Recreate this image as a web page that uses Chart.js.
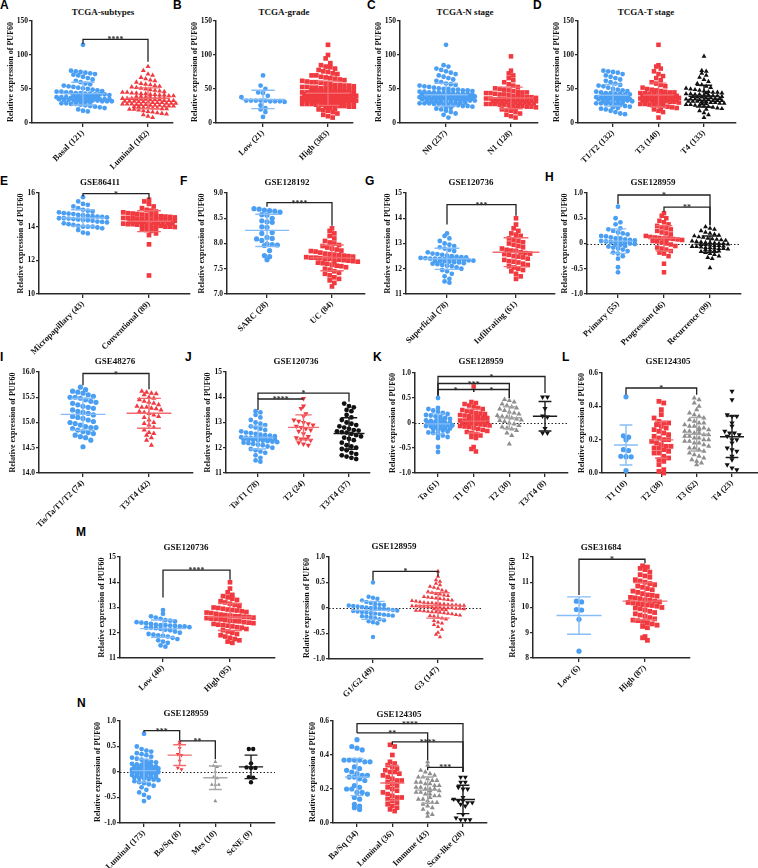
<!DOCTYPE html>
<html lang="en">
<head>
<meta charset="UTF-8">
<title>PUF60 expression in bladder cancer cohorts</title>
<script src="https://cdn.jsdelivr.net/npm/chart.js"></script>
<style>
  body { margin: 0; background: #fff; }
  #fig { position: relative; width: 758px; height: 868px; overflow: hidden; }
  #fig canvas { position: absolute; }
  .lab { position: absolute; font: bold 12px "Liberation Sans", Arial, sans-serif; line-height: 12px; color: #000; }
  .ttl { position: absolute; font: bold 9px "Liberation Serif", "Times New Roman", serif; color: #111;
         transform: translate(-50%, -50%); white-space: nowrap; }
</style>
</head>
<body>
<div id="fig"></div>
<script>
// ---- data ----
const ticksTCGA = ['0', '50', '100', '150'];
const ticksE = ['10', '12', '14', '16'];
const ticksF = ['7.0', '7.5', '8.0', '8.5', '9.0'];
const ticks11to15 = ['11', '12', '13', '14', '15'];
const ticksRel = ['-1.0', '-0.5', '0', '0.5', '1.0'];
const ticksI = ['14.0', '14.5', '15.0', '15.5', '16.0'];
const ticksSmall = ['0.0', '0.2', '0.4', '0.6'];
const ticksM3 = ['8', '9', '10', '11', '12'];

const catsA = ['Basal (121)', 'Luminal (182)'];
const catsB = ['Low (21)', 'High (383)'];
const catsC = ['N0 (237)', 'N1 (128)'];
const catsD = ['T1/T2 (132)', 'T3 (140)', 'T4 (133)'];
const catsE = ['Micropapillary (43)', 'Conventional (89)'];
const catsF = ['SARC (28)', 'UC (84)'];
const catsG = ['Superficial (78)', 'Infiltrating (61)'];
const catsH = ['Primary (55)', 'Progression (46)', 'Recurrence (99)'];
const catsI = ['Tis/Ta/T1/T2 (74)', 'T3/T4 (42)'];
const catsJ = ['Ta/T1 (78)', 'T2 (24)', 'T3/T4 (37)'];
const catsK = ['Ta (61)', 'T1 (97)', 'T2 (30)', 'T3/T4 (8)'];
const catsL = ['T1 (10)', 'T2 (38)', 'T3 (62)', 'T4 (23)'];
const catsM1 = ['Low (40)', 'High (95)'];
const catsM2 = ['G1/G2 (49)', 'G3 (147)'];
const catsM3 = ['Low (6)', 'High (87)'];
const catsN1 = ['Luminal (173)', 'Ba/Sq (8)', 'Mes (10)', 'ScNE (9)'];
const catsN2 = ['Ba/Sq (34)', 'Luminal (36)', 'Immune (43)', 'Scar-like (20)'];

const basalA = [115, 77, 76, 75, 74, 73, 72, 71, 70, 68, 66, 64, 62, 60, 58, 57, 55, 54, 53, 52, 51, 50, 49, 48, 47, 46, 46, 45, 45,
  44, 44, 43, 43, 42, 42, 42, 41, 41, 40, 40, 40, 39, 39, 38, 38, 38, 37, 37, 37, 36, 36, 36, 35, 35, 35, 35, 34, 34, 34, 34,
  33, 33, 33, 33, 32, 32, 32, 31, 31, 30, 30, 29, 29, 28, 28, 27, 26, 25, 24, 23, 22, 20, 18, 17];
const luminalA = [83, 77, 72, 70, 67, 65, 63, 62, 60, 58, 57, 56, 55, 54, 53, 52, 51, 50, 49, 48, 47, 46, 45, 45, 44, 44, 43, 43,
  42, 42, 41, 41, 40, 40, 39, 39, 38, 38, 37, 37, 37, 36, 36, 36, 35, 35, 35, 34, 34, 34, 33, 33, 33, 32, 32, 32, 31, 31, 31,
  30, 30, 30, 29, 29, 29, 28, 28, 28, 27, 27, 27, 26, 26, 26, 25, 25, 25, 24, 24, 23, 23, 22, 22, 21, 21, 20, 20, 19, 18, 17,
  16, 15, 14, 13, 12, 10, 8];
const lowB = [70, 55, 50, 45, 44, 40, 38, 33, 33, 33, 33, 33, 32, 32, 32, 31, 26, 22, 20, 16, 9];
const highB = [115, 100, 95, 88, 85, 83, 82, 80, 78, 76, 75, 73, 72, 70, 70, 68, 67, 66, 65, 64, 63, 62, 61, 60, 60, 59, 58, 57,
  56, 56, 55, 55, 54, 54, 53, 53, 52, 52, 51, 51, 50, 50, 50, 49, 49, 49, 48, 48, 48, 47, 47, 47, 46, 46, 46, 45, 45, 45, 45,
  44, 44, 44, 44, 43, 43, 43, 43, 42, 42, 42, 42, 41, 41, 41, 41, 40, 40, 40, 40, 40, 39, 39, 39, 39, 38, 38, 38, 38, 38,
  37, 37, 37, 37, 37, 36, 36, 36, 36, 36, 35, 35, 35, 35, 35, 34, 34, 34, 34, 34, 33, 33, 33, 33, 33, 32, 32, 32, 32,
  31, 31, 31, 31, 30, 30, 30, 30, 29, 29, 29, 28, 28, 28, 27, 27, 27, 26, 26, 25, 25, 24, 24, 23, 22, 21, 20, 19, 18, 16, 14,
  12, 10, 8];
const n0C = [115, 85, 83, 80, 78, 76, 74, 72, 70, 68, 66, 64, 62, 60, 58, 57, 56, 55, 54, 53, 52, 51, 50, 50, 49, 49, 48, 48,
  47, 47, 46, 46, 45, 45, 45, 44, 44, 44, 43, 43, 43, 42, 42, 42, 42, 41, 41, 41, 41, 40, 40, 40, 40, 39, 39, 39, 39,
  38, 38, 38, 38, 37, 37, 37, 37, 36, 36, 36, 36, 35, 35, 35, 35, 34, 34, 34, 34, 33, 33, 33, 33, 32, 32, 32, 31, 31, 31,
  30, 30, 30, 29, 29, 29, 28, 28, 27, 27, 26, 26, 25, 25, 24, 23, 22, 21, 20, 18, 16, 14, 12, 8];
const n1C = [98, 77, 73, 70, 66, 63, 60, 57, 55, 53, 51, 50, 49, 48, 47, 46, 45, 45, 44, 44, 43, 42, 42, 41, 40, 40, 39, 38, 38,
  37, 37, 36, 36, 35, 35, 35, 34, 34, 34, 33, 33, 33, 32, 32, 32, 31, 31, 31, 30, 30, 30, 29, 29, 28, 28, 28, 27, 27, 26, 26,
  25, 25, 24, 24, 23, 22, 21, 20, 19, 18, 16, 14, 12, 10, 8];
const t12D = [77, 76, 75, 74, 72, 70, 68, 66, 64, 62, 60, 58, 56, 55, 54, 52, 50, 49, 48, 47, 46, 45, 44, 44, 43, 43, 42, 42,
  41, 41, 40, 40, 39, 39, 38, 38, 37, 37, 36, 36, 35, 35, 35, 34, 34, 34, 33, 33, 33, 32, 32, 31, 31, 30, 30, 29, 29, 28, 28,
  27, 26, 25, 24, 23, 22, 21, 20, 18, 16, 14, 13];
const t3D = [115, 85, 83, 80, 76, 72, 69, 66, 63, 60, 58, 56, 54, 52, 50, 49, 48, 47, 46, 45, 45, 44, 44, 43, 43, 42, 42, 41,
  41, 40, 40, 40, 39, 39, 39, 38, 38, 38, 37, 37, 37, 36, 36, 36, 35, 35, 35, 34, 34, 34, 33, 33, 33, 32, 32, 32, 31, 31,
  30, 30, 29, 29, 28, 28, 27, 27, 26, 25, 24, 23, 22, 21, 20, 18, 16, 8];
const t4D = [98, 77, 76, 73, 70, 67, 64, 61, 58, 56, 54, 52, 51, 50, 49, 48, 47, 46, 45, 45, 44, 44, 43, 43, 42, 42, 41, 41,
  40, 40, 39, 39, 38, 38, 37, 37, 36, 36, 35, 35, 35, 34, 34, 34, 33, 33, 33, 32, 32, 32, 31, 31, 30, 30, 29, 29, 28, 28,
  27, 27, 26, 26, 25, 24, 23, 22, 21, 20, 18, 15, 12, 8];
const microE = [15.75, 15.5, 15.35, 15.3, 15.2, 15.1, 15.0, 14.95, 14.9, 14.85, 14.8, 14.78, 14.75, 14.7, 14.68, 14.65, 14.62,
  14.6, 14.58, 14.55, 14.5, 14.5, 14.48, 14.45, 14.42, 14.4, 14.38, 14.35, 14.3, 14.28, 14.25, 14.2, 14.15, 14.1, 14.05, 14.0,
  14.0, 14.0, 13.95, 13.9, 13.8, 13.65, 13.6];
const convE = [15.6, 15.5, 15.35, 15.2, 15.1, 15.0, 14.95, 14.9, 14.85, 14.8, 14.78, 14.75, 14.72, 14.7, 14.68, 14.65, 14.62,
  14.6, 14.58, 14.55, 14.52, 14.5, 14.5, 14.48, 14.45, 14.45, 14.42, 14.4, 14.4, 14.38, 14.35, 14.35, 14.32, 14.3, 14.3, 14.28,
  14.25, 14.25, 14.22, 14.2, 14.2, 14.2, 14.18, 14.15, 14.15, 14.12, 14.1, 14.1, 14.08, 14.05, 14.05, 14.0, 14.0, 13.98, 13.95,
  13.9, 13.88, 13.85, 13.8, 13.75, 13.6, 13.5, 12.95, 11.1];
const sarcF = [8.69, 8.68, 8.66, 8.65, 8.64, 8.62, 8.57, 8.56, 8.5, 8.45, 8.43, 8.42, 8.33, 8.32, 8.22, 8.2, 8.12, 8.1, 8.09,
  8.06, 7.99, 7.98, 7.97, 7.96, 7.86, 7.76, 7.74, 7.68];
const ucF = [8.3, 8.25, 8.2, 8.15, 8.1, 8.05, 8.02, 8.0, 7.97, 7.95, 7.92, 7.9, 7.88, 7.86, 7.85, 7.84, 7.82, 7.8, 7.79, 7.78,
  7.77, 7.76, 7.75, 7.74, 7.73, 7.72, 7.72, 7.71, 7.7, 7.7, 7.69, 7.68, 7.67, 7.66, 7.65, 7.64, 7.63, 7.62, 7.61, 7.6, 7.58,
  7.56, 7.55, 7.53, 7.5, 7.48, 7.45, 7.42, 7.4, 7.37, 7.33, 7.3, 7.27, 7.22, 7.15];
const supG = [13.4, 13.3, 13.2, 13.1, 13.0, 12.95, 12.9, 12.85, 12.8, 12.75, 12.7, 12.65, 12.6, 12.58, 12.55, 12.52, 12.5,
  12.48, 12.46, 12.45, 12.43, 12.42, 12.4, 12.4, 12.39, 12.38, 12.37, 12.36, 12.35, 12.34, 12.33, 12.32, 12.31, 12.3, 12.3,
  12.28, 12.26, 12.25, 12.22, 12.2, 12.18, 12.15, 12.12, 12.1, 12.05, 12.0, 11.95, 11.9, 11.8, 11.7, 11.6, 11.5, 11.45];
const infG = [14.0, 13.75, 13.6, 13.5, 13.4, 13.35, 13.3, 13.2, 13.15, 13.1, 13.05, 13.0, 12.95, 12.9, 12.85, 12.8, 12.75,
  12.72, 12.7, 12.65, 12.62, 12.6, 12.58, 12.55, 12.5, 12.48, 12.45, 12.4, 12.35, 12.3, 12.28, 12.25, 12.2, 12.15, 12.1,
  12.05, 12.0, 11.95, 11.9, 11.8, 11.7, 11.6];
const primH = [0.73, 0.5, 0.42, 0.38, 0.3, 0.28, 0.25, 0.22, 0.2, 0.18, 0.15, 0.14, 0.12, 0.1, 0.1, 0.08, 0.07, 0.06, 0.05,
  0.04, 0.03, 0.02, 0.02, 0.01, 0.0, -0.01, -0.02, -0.03, -0.05, -0.06, -0.08, -0.1, -0.12, -0.15, -0.18, -0.2, -0.25, -0.3,
  -0.47, -0.57];
const progH = [0.6, 0.55, 0.5, 0.45, 0.42, 0.38, 0.35, 0.32, 0.3, 0.28, 0.25, 0.22, 0.2, 0.18, 0.15, 0.13, 0.12, 0.11, 0.1,
  0.1, 0.09, 0.08, 0.07, 0.06, 0.05, 0.04, 0.02, 0.0, -0.02, -0.05, -0.08, -0.1, -0.12, -0.15, -0.18, -0.2, -0.25, -0.4, -0.57];
const recH = [0.33, 0.3, 0.28, 0.25, 0.22, 0.2, 0.18, 0.16, 0.15, 0.13, 0.12, 0.1, 0.09, 0.08, 0.07, 0.06, 0.05, 0.04, 0.03,
  0.02, 0.02, 0.01, 0.0, 0.0, -0.01, -0.02, -0.02, -0.03, -0.04, -0.04, -0.05, -0.06, -0.06, -0.07, -0.08, -0.08, -0.09,
  -0.1, -0.1, -0.11, -0.12, -0.13, -0.14, -0.15, -0.16, -0.18, -0.2, -0.22, -0.25, -0.28, -0.3, -0.48];
const earlyI = [15.7, 15.65, 15.62, 15.6, 15.58, 15.55, 15.52, 15.5, 15.5, 15.48, 15.45, 15.42, 15.4, 15.38, 15.35, 15.32,
  15.3, 15.28, 15.25, 15.22, 15.2, 15.18, 15.15, 15.12, 15.1, 15.08, 15.05, 15.02, 15.0, 14.98, 14.95, 14.92, 14.9, 14.9,
  14.88, 14.85, 14.82, 14.8, 14.78, 14.75, 14.72, 14.7, 14.65, 14.52];
const lateI = [15.62, 15.6, 15.58, 15.57, 15.55, 15.5, 15.48, 15.45, 15.42, 15.4, 15.38, 15.35, 15.32, 15.3, 15.3, 15.28,
  15.27, 15.25, 15.22, 15.2, 15.18, 15.15, 15.12, 15.1, 15.05, 15.0, 14.98, 14.95, 14.9, 14.85, 14.8, 14.78, 14.75, 14.7,
  14.65, 14.55];
const tat1J = [13.45, 13.4, 13.3, 13.2, 13.1, 13.0, 12.95, 12.9, 12.85, 12.8, 12.75, 12.7, 12.65, 12.6, 12.58, 12.55, 12.52,
  12.5, 12.48, 12.46, 12.44, 12.42, 12.4, 12.39, 12.38, 12.37, 12.36, 12.35, 12.34, 12.33, 12.32, 12.31, 12.3, 12.28, 12.26,
  12.24, 12.22, 12.2, 12.18, 12.15, 12.12, 12.1, 12.05, 12.0, 11.95, 11.9, 11.85, 11.8, 11.7, 11.6, 11.5, 11.45];
const t2J = [13.95, 13.65, 13.55, 13.35, 13.25, 13.1, 13.05, 13.0, 12.95, 12.9, 12.85, 12.8, 12.75, 12.7, 12.65, 12.55,
  12.45, 12.4, 12.35, 12.35, 12.3, 12.2, 12.15, 12.1];
const t34J = [13.75, 13.65, 13.6, 13.5, 13.45, 13.3, 13.2, 13.1, 13.0, 12.95, 12.9, 12.85, 12.8, 12.75, 12.7, 12.68, 12.65,
  12.62, 12.6, 12.55, 12.5, 12.45, 12.4, 12.35, 12.3, 12.2, 12.1, 12.05, 12.0, 11.95, 11.9, 11.8, 11.75, 11.7, 11.65, 11.6, 11.55];
const taK = [0.5, 0.3, 0.28, 0.25, 0.22, 0.2, 0.18, 0.16, 0.15, 0.13, 0.12, 0.1, 0.08, 0.07, 0.06, 0.05, 0.04, 0.03, 0.02,
  0.01, 0.0, 0.0, -0.01, -0.02, -0.03, -0.04, -0.05, -0.06, -0.07, -0.08, -0.09, -0.1, -0.11, -0.12, -0.14, -0.15, -0.17,
  -0.19, -0.2, -0.22, -0.25, -0.28, -0.3, -0.48, -0.58];
const t1K = [0.73, 0.42, 0.4, 0.38, 0.35, 0.33, 0.3, 0.28, 0.26, 0.24, 0.22, 0.2, 0.19, 0.18, 0.16, 0.15, 0.14, 0.13, 0.12,
  0.11, 0.1, 0.09, 0.08, 0.07, 0.06, 0.05, 0.05, 0.04, 0.03, 0.03, 0.02, 0.01, 0.0, 0.0, -0.01, -0.02, -0.03, -0.04, -0.05,
  -0.06, -0.07, -0.08, -0.1, -0.12, -0.14, -0.16, -0.18, -0.2, -0.22, -0.25, -0.28, -0.3, -0.48, -0.52, -0.57];
const t2K = [0.47, 0.45, 0.42, 0.38, 0.35, 0.32, 0.3, 0.28, 0.25, 0.22, 0.2, 0.18, 0.15, 0.13, 0.12, 0.1, 0.08, 0.06, 0.05,
  0.03, 0.0, -0.02, -0.05, -0.08, -0.1, -0.12, -0.15, -0.2, -0.25, -0.42];
const t34K = [0.52, 0.52, 0.29, 0.14, 0.12, -0.11, -0.2, -0.2];
const t1L = [0.457, 0.223, 0.215, 0.2, 0.14, 0.135, 0.1, 0.098, 0.097, 0.015];
const t2L = [0.43, 0.42, 0.38, 0.35, 0.33, 0.31, 0.3, 0.3, 0.29, 0.28, 0.27, 0.26, 0.25, 0.24, 0.23, 0.22, 0.21, 0.2, 0.2,
  0.19, 0.18, 0.17, 0.16, 0.16, 0.15, 0.15, 0.14, 0.13, 0.12, 0.12, 0.1, 0.09, 0.08, 0.07, 0.05, 0.02, 0.01, 0.0];
const t3L = [0.45, 0.44, 0.42, 0.4, 0.38, 0.36, 0.35, 0.34, 0.33, 0.32, 0.31, 0.3, 0.3, 0.29, 0.28, 0.28, 0.27, 0.27, 0.26,
  0.26, 0.25, 0.25, 0.24, 0.24, 0.23, 0.23, 0.22, 0.22, 0.21, 0.21, 0.2, 0.2, 0.19, 0.19, 0.18, 0.18, 0.17, 0.16, 0.15, 0.15,
  0.14, 0.13, 0.12, 0.11, 0.1, 0.09, 0.08, 0.07, 0.06, 0.05];
const t4L = [0.49, 0.44, 0.35, 0.34, 0.34, 0.3, 0.28, 0.25, 0.24, 0.24, 0.23, 0.22, 0.2, 0.2, 0.18, 0.15, 0.14, 0.13, 0.1,
  0.08, 0.05, 0.03, 0.02];
const lowM1 = [12.9, 12.75, 12.65, 12.6, 12.55, 12.5, 12.48, 12.45, 12.42, 12.4, 12.38, 12.35, 12.32, 12.3, 12.3, 12.28,
  12.27, 12.25, 12.25, 12.22, 12.2, 12.2, 12.18, 12.15, 12.12, 12.1, 12.05, 12.0, 11.95, 11.92, 11.9, 11.88, 11.85, 11.8,
  11.75, 11.7, 11.65, 11.6, 11.5, 11.45];
const highM1 = [14.0, 13.75, 13.6, 13.5, 13.45, 13.4, 13.35, 13.3, 13.25, 13.2, 13.15, 13.1, 13.05, 13.0, 12.98, 12.95,
  12.92, 12.9, 12.88, 12.85, 12.82, 12.8, 12.78, 12.75, 12.72, 12.7, 12.68, 12.66, 12.65, 12.63, 12.62, 12.6, 12.58, 12.56,
  12.55, 12.53, 12.5, 12.48, 12.46, 12.45, 12.42, 12.4, 12.38, 12.35, 12.32, 12.3, 12.28, 12.25, 12.22, 12.2, 12.15, 12.1,
  12.05, 12.0, 11.95, 11.9, 11.85, 11.8, 11.75, 11.7, 11.65, 11.6];
const g12M2 = [0.5, 0.22, 0.2, 0.18, 0.15, 0.12, 0.1, 0.08, 0.07, 0.06, 0.05, 0.04, 0.03, 0.02, 0.01, 0.0, 0.0, -0.01, -0.02,
  -0.03, -0.04, -0.05, -0.06, -0.07, -0.08, -0.09, -0.1, -0.11, -0.12, -0.13, -0.14, -0.15, -0.16, -0.17, -0.18, -0.2, -0.22,
  -0.24, -0.26, -0.28, -0.3, -0.57];
const g3M2 = [0.72, 0.62, 0.55, 0.52, 0.48, 0.45, 0.42, 0.4, 0.38, 0.35, 0.33, 0.32, 0.3, 0.28, 0.27, 0.25, 0.24, 0.22, 0.21,
  0.2, 0.19, 0.18, 0.17, 0.16, 0.15, 0.14, 0.13, 0.12, 0.11, 0.1, 0.1, 0.09, 0.08, 0.08, 0.07, 0.06, 0.06, 0.05, 0.05, 0.04,
  0.04, 0.03, 0.03, 0.02, 0.02, 0.01, 0.01, 0.0, 0.0, 0.0, -0.01, -0.01, -0.02, -0.02, -0.03, -0.03, -0.04, -0.05, -0.05,
  -0.06, -0.07, -0.08, -0.08, -0.09, -0.1, -0.11, -0.12, -0.13, -0.14, -0.15, -0.16, -0.18, -0.2, -0.22, -0.25, -0.28, -0.3,
  -0.33, -0.37, -0.42, -0.48, -0.52, -0.57];
const lowM3 = [10.25, 10.22, 9.92, 9.9, 9.53, 8.27];
const highM3 = [11.65, 11.6, 11.55, 11.5, 11.4, 11.3, 11.25, 11.2, 11.1, 11.05, 11.0, 10.95, 10.9, 10.85, 10.8, 10.75, 10.7,
  10.65, 10.6, 10.55, 10.5, 10.48, 10.45, 10.4, 10.38, 10.35, 10.3, 10.28, 10.25, 10.22, 10.2, 10.18, 10.15, 10.12, 10.1,
  10.08, 10.05, 10.0, 9.98, 9.95, 9.9, 9.85, 9.8, 9.75, 9.7, 9.65, 9.6, 9.55, 9.5, 9.48, 9.45, 9.4, 9.35, 9.3, 9.25, 9.2,
  8.85, 8.8, 8.7];
const lumN1 = [0.75, 0.5, 0.45, 0.42, 0.4, 0.37, 0.35, 0.33, 0.3, 0.28, 0.26, 0.24, 0.22, 0.2, 0.19, 0.18, 0.17, 0.16, 0.15,
  0.14, 0.13, 0.12, 0.11, 0.1, 0.1, 0.09, 0.08, 0.08, 0.07, 0.06, 0.06, 0.05, 0.05, 0.04, 0.04, 0.03, 0.03, 0.02, 0.02, 0.01,
  0.01, 0.0, 0.0, 0.0, -0.01, -0.01, -0.02, -0.02, -0.03, -0.03, -0.04, -0.04, -0.05, -0.05, -0.06, -0.07, -0.08, -0.08,
  -0.09, -0.1, -0.11, -0.12, -0.13, -0.14, -0.15, -0.16, -0.18, -0.2, -0.22, -0.24, -0.27, -0.3, -0.35, -0.4, -0.45, -0.5, -0.57];
const basqN1 = [0.59, 0.55, 0.47, 0.35, 0.33, 0.22, 0.08, 0.05];
const mesN1 = [0.2, 0.12, 0.1, 0.0, -0.1, -0.12, -0.25, -0.25, -0.25, -0.57];
const scneN1 = [0.45, 0.45, 0.17, 0.09, 0.08, 0.08, -0.1, -0.11, -0.2];
const basqN2 = [0.49, 0.45, 0.44, 0.43, 0.37, 0.37, 0.37, 0.37, 0.36, 0.36, 0.33, 0.32, 0.31, 0.3, 0.29, 0.28, 0.28, 0.27,
  0.27, 0.26, 0.25, 0.22, 0.21, 0.2, 0.2, 0.18, 0.18, 0.17, 0.15, 0.14, 0.11, 0.1, 0.09, 0.08];
const lumN2 = [0.46, 0.45, 0.4, 0.36, 0.35, 0.34, 0.33, 0.32, 0.31, 0.3, 0.3, 0.29, 0.28, 0.27, 0.26, 0.25, 0.25, 0.24, 0.23,
  0.22, 0.21, 0.2, 0.19, 0.18, 0.17, 0.16, 0.15, 0.15, 0.14, 0.13, 0.12, 0.11, 0.1, 0.09, 0.08, 0.07];
const immN2 = [0.36, 0.34, 0.31, 0.3, 0.29, 0.28, 0.27, 0.27, 0.26, 0.25, 0.25, 0.24, 0.24, 0.23, 0.23, 0.22, 0.22, 0.21,
  0.21, 0.2, 0.2, 0.2, 0.19, 0.19, 0.18, 0.18, 0.17, 0.17, 0.16, 0.16, 0.15, 0.14, 0.14, 0.13, 0.12, 0.12, 0.11, 0.1, 0.09,
  0.08, 0.06, 0.05, 0.04];
const scarN2 = [0.27, 0.27, 0.24, 0.24, 0.21, 0.2, 0.2, 0.15, 0.14, 0.13, 0.13, 0.12, 0.12, 0.11, 0.1, 0.05, 0.03, 0.02, 0.02, 0.02];

// significance brackets: [group a, group b, bar level, leg end a, leg end b, label]
const brA = [[0, 1, 123, 116, 90, '****']];
const brE = [[0, 1, 15.96, 15.8, 15.65, '*']];
const brF = [[0, 1, 8.81, 8.73, 8.35, '****']];
const brG = [[0, 1, 14.54, 13.75, 14.1, '***']];
const brH = [[0, 2, 0.96, 0.78, 0.36, '*'], [1, 2, 0.72, 0.63, 0.36, '**']];
const brI = [[0, 1, 15.97, 15.74, 15.66, '*']];
const brJ = [[0, 2, 14.16, 13.93, 13.82, '*'], [0, 1, 13.93, 13.5, 13.93, '****']];
const brK = [[0, 3, 0.93, 0.55, 0.6, '*'], [0, 2, 0.79, 0.55, 0.5, '***'], [0, 1, 0.67, 0.55, 0.62, '*'], [1, 2, 0.67, 0.62, 0.5, '*']];
const brL = [[0, 2, 0.51, 0.47, 0.47, '*']];
const brM1 = [[0, 1, 14.48, 13.4, 14.1, '****']];
const brM2 = [[0, 1, 0.72, 0.54, 0.62, '*']];
const brM3 = [[0, 1, 11.91, 10.5, 11.75, '*']];
const brN1 = [[0, 1, 0.81, 0.78, 0.62, '***'], [1, 2, 0.61, 0.61, 0.25, '**']];
const brN2 = [[0, 3, 0.585, 0.53, 0.3, '****'], [0, 2, 0.53, 0.53, 0.37, '**'], [1, 3, 0.477, 0.46, 0.3, '****'], [2, 3, 0.327, 0.31, 0.3, '***']];

// ---- styling ----
const COL = { blue: '#4b9ff3', red: '#f03a40', gray: '#8e8e8e', black: '#111111' };
const BAR = { blue: '#86bdf6', red: '#f26a6e', gray: '#a8a8a8', black: '#1a1a1a' };
const AX = '#2a2a2a';
const SERIF = '"Liberation Serif", "Times New Roman", serif';
const TICK_PX = 7.5, YTITLE_PX = 8;
const YW = 45, XH = 80, PT = 8, PR = 8;

// yt = distance from the y axis line to the centre of the rotated axis title
const panels = [
  { title: 'TCGA-subtypes', tx: 103, ty: 12, ax: 32, top: 21, bot: 123, end: 173, cats: [83, 148], labels: catsA, yTicks: ticksTCGA, yt: 17,
    groups: [[basalA, 'blue', 'circle', 2.4], [luminalA, 'red', 'triangle', 2.9]], brackets: brA },
  { title: 'TCGA-grade', tx: 284, ty: 12, ax: 216, top: 21, bot: 123, end: 353, cats: [263, 328], labels: catsB, yTicks: ticksTCGA, yt: 17,
    groups: [[lowB, 'blue', 'circle', 2.4], [highB, 'red', 'rect', 3.3]], brackets: [] },
  { title: 'TCGA-N stage', tx: 465, ty: 12, ax: 400, top: 21, bot: 123, end: 538, cats: [446, 511], labels: catsC, yTicks: ticksTCGA, yt: 17,
    groups: [[n0C, 'blue', 'circle', 2.4], [n1C, 'red', 'rect', 3.2]], brackets: [] },
  { title: 'TCGA-T stage', tx: 646, ty: 12, ax: 578, top: 21, bot: 123, end: 736, cats: [613, 658, 704], labels: catsD, yTicks: ticksTCGA, yt: 17,
    groups: [[t12D, 'blue', 'circle', 2.4], [t3D, 'red', 'rect', 3.2], [t4D, 'black', 'triangle', 2.8]], brackets: [] },

  { title: 'GSE86411', tx: 100, ty: 182, ax: 39, top: 193, bot: 294, end: 190, cats: [83, 149], labels: catsE, yTicks: ticksE, yt: 17,
    groups: [[microE, 'blue', 'circle', 2.4], [convE, 'red', 'rect', 3.3]], brackets: brE },
  { title: 'GSE128192', tx: 287, ty: 182, ax: 227, top: 193, bot: 294, end: 365, cats: [267, 332], labels: catsF, yTicks: ticksF, yt: 25,
    groups: [[sarcF, 'blue', 'circle', 2.6], [ucF, 'red', 'rect', 3.3]], brackets: brF },
  { title: 'GSE120736', tx: 471, ty: 182, ax: 406, top: 193, bot: 294, end: 555, cats: [447, 516], labels: catsG, yTicks: ticks11to15, yt: 17,
    groups: [[supG, 'blue', 'circle', 2.4], [infG, 'red', 'rect', 3.3]], brackets: brG },
  { title: 'GSE128959', tx: 653, ty: 182, ax: 587, top: 193, bot: 294, end: 741, cats: [618, 663, 710], labels: catsH, yTicks: ticksRel, yt: 19,
    groups: [[primH, 'blue', 'circle', 2.4], [progH, 'red', 'rect', 3.2], [recH, 'black', 'triangle', 2.8]], brackets: brH, zero: true },

  { title: 'GSE48276', tx: 115, ty: 361, ax: 39, top: 372, bot: 473, end: 193, cats: [83, 149], labels: catsI, yTicks: ticksI, yt: 26,
    groups: [[earlyI, 'blue', 'circle', 2.6], [lateI, 'red', 'triangle', 3.0]], brackets: brI },
  { title: 'GSE120736', tx: 296, ty: 361, ax: 226, top: 372, bot: 473, end: 370, cats: [258, 303, 349], labels: catsJ, yTicks: ticks11to15, yt: 16,
    groups: [[tat1J, 'blue', 'circle', 2.4], [t2J, 'red', 'itri', 3.0], [t34J, 'black', 'circle', 2.4]], brackets: brJ },
  { title: 'GSE128959', tx: 481, ty: 361, ax: 415, top: 373, bot: 473, end: 568, cats: [438, 474, 510, 545], labels: catsK, yTicks: ticksRel, yt: 21,
    groups: [[taK, 'blue', 'circle', 2.4], [t1K, 'red', 'rect', 3.2], [t2K, 'gray', 'triangle', 3.0], [t34K, 'black', 'itri', 3.0]], brackets: brK, zero: true },
  { title: 'GSE124305', tx: 668, ty: 361, ax: 602, top: 373, bot: 473, end: 758, cats: [626, 662, 697, 732], labels: catsL, yTicks: ticksSmall, yt: 19,
    groups: [[t1L, 'blue', 'circle', 2.6], [t2L, 'red', 'rect', 3.4], [t3L, 'gray', 'triangle', 3.0], [t4L, 'black', 'itri', 3.0]], brackets: brL },

  { title: 'GSE120736', tx: 186, ty: 547, ax: 120, top: 557, bot: 658, end: 275, cats: [163, 230], labels: catsM1, yTicks: ticks11to15, yt: 18,
    groups: [[lowM1, 'blue', 'circle', 2.4], [highM1, 'red', 'rect', 3.3]], brackets: brM1 },
  { title: 'GSE128959', tx: 394, ty: 546, ax: 329, top: 557, bot: 659, end: 483, cats: [373, 438], labels: catsM2, yTicks: ticksRel, yt: 22,
    groups: [[g12M2, 'blue', 'circle', 2.2], [g3M2, 'red', 'triangle', 2.5]], brackets: brM2, zero: true },
  { title: 'GSE31684', tx: 601, ty: 547, ax: 533, top: 557, bot: 658, end: 690, cats: [579, 645], labels: catsM3, yTicks: ticksM3, yt: 20,
    groups: [[lowM3, 'blue', 'circle', 2.6], [highM3, 'red', 'rect', 3.4]], brackets: brM3 },

  { title: 'GSE128959', tx: 186, ty: 713, ax: 120, top: 721, bot: 823, end: 275, cats: [144, 180, 215, 251], labels: catsN1, yTicks: ticksRel, yt: 18,
    groups: [[lumN1, 'blue', 'circle', 2.4], [basqN1, 'red', 'itri', 2.3], [mesN1, 'gray', 'triangle', 2.2], [scneN1, 'black', 'circle', 2.2]], brackets: brN1, zero: true },
  { title: 'GSE124305', tx: 399, ty: 714, ax: 333, top: 721, bot: 823, end: 487, cats: [357, 392, 427, 463], labels: catsN2, yTicks: ticksSmall, yt: 20,
    groups: [[basqN2, 'blue', 'circle', 2.6], [lumN2, 'red', 'rect', 3.3], [immN2, 'gray', 'triangle', 2.9], [scarN2, 'black', 'itri', 2.9]], brackets: brN2 }
];

const letters = [['A', 0, -1], ['B', 173, -1], ['C', 367, -1], ['D', 533, -1],
  ['E', 0, 175], ['F', 180, 175], ['G', 365, 175], ['H', 545, 171],
  ['I', 0, 351], ['J', 185, 351], ['K', 373, 351], ['L', 562, 351],
  ['M', 76, 526], ['N', 77, 697]];

const fig = document.getElementById('fig');
letters.forEach(([t, x, y]) => {
  const d = document.createElement('div');
  d.className = 'lab'; d.textContent = t; d.style.left = x + 'px'; d.style.top = y + 'px';
  fig.appendChild(d);
});

const mctx = document.createElement('canvas').getContext('2d');
mctx.font = 'bold ' + TICK_PX + 'px ' + SERIF;
const labelWidth = arr => Math.max(...arr.map(s => mctx.measureText(s).width));

const mean = a => a.reduce((s, v) => s + v, 0) / a.length;
const sdev = a => { const m = mean(a); return Math.sqrt(a.reduce((s, v) => s + (v - m) ** 2, 0) / (a.length - 1)); };

// scatter-dot layout: points grouped in rows by value, each row centred on the category
function swarm(vals, pxU, size, sp) {
  const binH = size * 1.2, step = size * 1.0;
  const maxN = Math.max(1, Math.floor(0.9 * sp / step));
  const keys = vals.map(v => Math.round(v * pxU / binH));
  const cnt = {};
  keys.forEach(b => { cnt[b] = (cnt[b] || 0) + 1; });
  const seen = {};
  return keys.map(b => {
    const k = seen[b] = (seen[b] === undefined ? 0 : seen[b] + 1);
    const layer = Math.floor(k / maxN);
    const inRow = Math.min(maxN, cnt[b] - layer * maxN);
    let off = (k % maxN - (inRow - 1) / 2) * step;
    if (layer % 2) off += step / 2;
    return off / sp;
  });
}

function makeDeco(p, sp) {
  return {
    id: 'deco',
    beforeDatasetsDraw(chart) {
      if (!p.zero) return;
      const { ctx, chartArea: ca, scales: { y } } = chart;
      const yy = Math.round(y.getPixelForValue(0)) + 0.5;
      ctx.save();
      ctx.strokeStyle = '#222'; ctx.lineWidth = 1; ctx.setLineDash([1.5, 2]);
      ctx.beginPath(); ctx.moveTo(ca.left, yy); ctx.lineTo(ca.right, yy); ctx.stroke();
      ctx.restore();
    },
    afterDatasetsDraw(chart) {
      const { ctx, scales: { x, y } } = chart;
      ctx.save();
      p.groups.forEach(([vals, col], gi) => {
        const m = mean(vals), s = sdev(vals);
        const cx = x.getPixelForValue(gi);
        const mw = 0.34 * sp, cw = 0.18 * sp;
        const ym = y.getPixelForValue(m), yt = y.getPixelForValue(m + s), yb = y.getPixelForValue(m - s);
        ctx.strokeStyle = BAR[col]; ctx.lineWidth = 1.4;
        ctx.beginPath();
        ctx.moveTo(cx - mw, ym); ctx.lineTo(cx + mw, ym);
        ctx.moveTo(cx - cw, yt); ctx.lineTo(cx + cw, yt);
        ctx.moveTo(cx - cw, yb); ctx.lineTo(cx + cw, yb);
        ctx.moveTo(cx, yt); ctx.lineTo(cx, yb);
        ctx.stroke();
      });
      p.brackets.forEach(([a, b, lv, la, lb, lab]) => {
        const xa = x.getPixelForValue(a), xb = x.getPixelForValue(b), yl = y.getPixelForValue(lv);
        ctx.strokeStyle = '#222'; ctx.lineWidth = 1.3;
        ctx.beginPath();
        ctx.moveTo(xa, y.getPixelForValue(la)); ctx.lineTo(xa, yl); ctx.lineTo(xb, yl); ctx.lineTo(xb, y.getPixelForValue(lb));
        ctx.stroke();
        ctx.fillStyle = '#333'; ctx.font = 'bold 8px ' + SERIF;
        ctx.textAlign = 'center'; ctx.textBaseline = 'alphabetic';
        ctx.fillText(lab, (xa + xb) / 2, yl + 3);
      });
      ctx.restore();
    }
  };
}

panels.forEach(p => {
  const t = document.createElement('div');
  t.className = 'ttl'; t.textContent = p.title; t.style.left = p.tx + 'px'; t.style.top = p.ty + 'px';
  fig.appendChild(t);

  const n = p.labels.length;
  const sp = (p.cats[n - 1] - p.cats[0]) / (n - 1);
  const yv = p.yTicks.map(Number);
  const pxU = (p.bot - p.top) / (yv[yv.length - 1] - yv[0]);
  const left = p.ax - YW, topC = p.top - PT;
  const W = p.end - left + PR, H = p.bot - topC + XH;
  // keep the axis title clear of the tick labels
  const tOff = Math.max(p.yt, 3 + 1 + labelWidth(p.yTicks) + 1.5 + YTITLE_PX * 0.6);
  const cv = document.createElement('canvas');
  cv.width = W; cv.height = H;
  cv.style.left = left + 'px'; cv.style.top = topC + 'px';
  cv.style.width = W + 'px'; cv.style.height = H + 'px';
  fig.appendChild(cv);

  const datasets = p.groups.map(([vals, col, shape, r], gi) => {
    const size = shape === 'circle' ? 2 * r : shape === 'rect' ? 1.42 * r : 1.6 * r;
    const offs = swarm(vals, pxU, size, sp);
    return {
      data: vals.map((v, k) => ({ x: gi + offs[k], y: v })),
      pointStyle: shape === 'itri' ? 'triangle' : shape,
      pointRotation: shape === 'itri' ? 180 : 0,
      pointRadius: r, pointHoverRadius: r,
      pointBackgroundColor: COL[col], pointBorderColor: COL[col], pointBorderWidth: 0,
      clip: false
    };
  });

  new Chart(cv, {
    type: 'scatter',
    data: { datasets },
    plugins: [makeDeco(p, sp)],
    options: {
      responsive: false, animation: false, devicePixelRatio: 1, events: [],
      layout: { padding: { top: PT, right: PR, left: 0, bottom: 0 } },
      plugins: { legend: { display: false }, tooltip: { enabled: false } },
      scales: {
        x: {
          type: 'linear',
          min: -(p.cats[0] - p.ax) / sp, max: (p.end - p.cats[0]) / sp,
          afterBuildTicks: s => { s.ticks = p.labels.map((_, i) => ({ value: i })); },
          afterFit: s => { s.height = XH; },
          ticks: { callback: (v, i) => p.labels[i], autoSkip: false, maxRotation: 45, minRotation: 45,
                   font: { family: SERIF, weight: 'bold', size: 8.5 }, color: '#111', padding: 1 },
          grid: { display: true, drawOnChartArea: false, drawTicks: true, tickLength: 4, color: AX, lineWidth: 1.3 },
          border: { display: true, color: AX, width: 1.5 }
        },
        y: {
          min: yv[0], max: yv[yv.length - 1],
          afterBuildTicks: s => { s.ticks = yv.map(v => ({ value: v })); },
          afterFit: s => { s.width = YW; },
          ticks: { callback: (v, i) => p.yTicks[i], font: { family: SERIF, weight: 'bold', size: TICK_PX }, color: '#111', padding: 1 },
          grid: { display: true, drawOnChartArea: false, drawTicks: true, tickLength: 3, color: AX, lineWidth: 1.3 },
          border: { display: true, color: AX, width: 1.5 },
          title: { display: true, text: 'Relative expression of PUF60', color: '#111',
                   font: { family: SERIF, weight: 'bold', size: YTITLE_PX },
                   padding: { top: YW - tOff - YTITLE_PX * 0.6, bottom: 0 } }
        }
      }
    }
  });
});
</script>
</body>
</html>
